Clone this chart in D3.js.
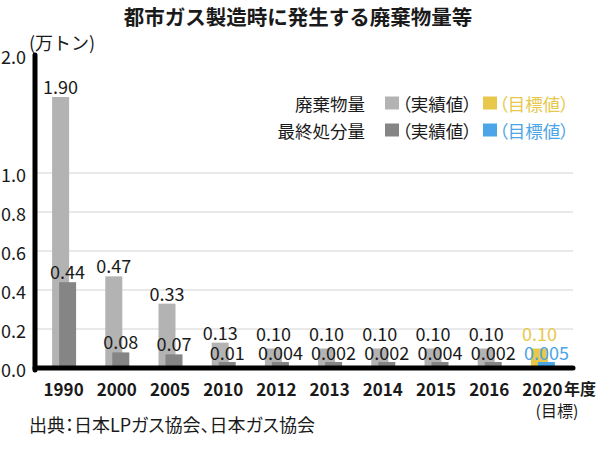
<!DOCTYPE html>
<html>
<head>
<meta charset="utf-8">
<script src="https://cdn.jsdelivr.net/npm/d3@7"></script>
<style>
  body { margin: 0; background: #fff; }
  svg { font-family: "Noto Sans CJK JP", "Noto Sans", sans-serif; }
  .palt { font-feature-settings: "palt"; }
</style>
</head>
<body>
<div id="chart"></div>
<script>
// data
const years = ['1990', '2000', '2005', '2010', '2012', '2013', '2014', '2015', '2016', '2020'];
const waste = [1.90, 0.47, 0.33, 0.13, 0.10, 0.10, 0.10, 0.10, 0.10, 0.10];
const wasteLabels = ['1.90', '0.47', '0.33', '0.13', '0.10', '0.10', '0.10', '0.10', '0.10', '0.10'];
const disposal = [0.44, 0.08, 0.07, 0.01, 0.004, 0.002, 0.002, 0.004, 0.002, 0.005];
const disposalLabels = ['0.44', '0.08', '0.07', '0.01', '0.004', '0.002', '0.002', '0.004', '0.002', '0.005'];
const yTicks = [0, 0.2, 0.4, 0.6, 0.8, 1.0, 2.0];
const gridTicks = [0.2, 0.4, 0.6, 0.8, 1.0];
const targetYear = '2020';

const width = 596, height = 449;

const colors = {
    waste: '#b3b3b3',
    disposal: '#858585',
    wasteTarget: '#e8c84a',
    disposalTarget: '#4ba5e6',
    text: '#1a1a1a'
};

const svg = d3.select('#chart').append('svg')
    .attr('width', width)
    .attr('height', height);

// x: one band per year
const x = d3.scaleBand()
    .domain(years)
    .range([37, 569]);
const cx = d => x(d) + x.bandwidth() / 2;

// y: broken axis, 0-1 linear, compressed above 1
const y = d3.scaleLinear()
    .domain([0, 1, 1.9, 2])
    .range([368, 173, 97, 55]);

const barW = 17;

// title
svg.append('text')
    .attr('x', 298).attr('y', 16)
    .attr('text-anchor', 'middle')
    .attr('dominant-baseline', 'central')
    .style('font-size', '20.5px')
    .style('font-weight', 'bold')
    .style('fill', colors.text)
    .text('都市ガス製造時に発生する廃棄物量等');

// unit
svg.append('text')
    .attr('x', 29).attr('y', 42)
    .attr('dominant-baseline', 'central')
    .style('font-size', '18px')
    .style('fill', colors.text)
    .text('(万トン)');

// gridlines
svg.append('g')
    .selectAll('line')
    .data(gridTicks)
    .join('line')
    .attr('x1', 37).attr('x2', 573)
    .attr('y1', d => y(d)).attr('y2', d => y(d))
    .style('stroke', '#e2e2e2')
    .style('stroke-width', 1.5);

// bars
const rows = years.map((yr, i) => ({
    year: yr,
    waste: waste[i], wasteLabel: wasteLabels[i],
    disposal: disposal[i], disposalLabel: disposalLabels[i]
}));

svg.append('g')
    .selectAll('rect')
    .data(rows)
    .join('rect')
    .attr('x', d => cx(d.year) - 3 - barW / 2)
    .attr('y', d => y(d.waste))
    .attr('width', barW)
    .attr('height', d => y(0) - y(d.waste))
    .style('fill', d => d.year === targetYear ? colors.wasteTarget : colors.waste);

svg.append('g')
    .selectAll('rect')
    .data(rows)
    .join('rect')
    .attr('x', d => cx(d.year) + 4 - barW / 2)
    .attr('y', d => Math.min(y(d.disposal), y(0) - 6))
    .attr('width', barW)
    .attr('height', d => Math.max(y(0) - y(d.disposal), 6))
    .style('fill', d => d.year === targetYear ? colors.disposalTarget : colors.disposal);

// y axis
const yAxis = svg.append('g')
    .attr('transform', 'translate(35,0)')
    .call(d3.axisLeft(y)
        .tickValues(yTicks)
        .tickSize(0)
        .tickSizeOuter(0)
        .tickPadding(9)
        .tickFormat(d3.format('.1f')));
yAxis.select('.domain')
    .attr('stroke', '#000')
    .attr('stroke-width', 5)
    .attr('stroke-linecap', 'round')
    .attr('d', `M0,${y(2)}V${y(0) + 2}`);
yAxis.selectAll('text')
    .attr('dy', null)
    .attr('dominant-baseline', 'central')
    .style('font-size', '18px')
    .style('font-family', '"Noto Sans CJK JP", sans-serif')
    .style('fill', colors.text);

// x axis
const xAxis = svg.append('g')
    .attr('transform', `translate(0,${y(0)})`)
    .call(d3.axisBottom(x).tickSize(0).tickSizeOuter(0).tickPadding(20));
xAxis.select('.domain')
    .attr('stroke', '#000')
    .attr('stroke-width', 5)
    .attr('stroke-linecap', 'round')
    .attr('d', 'M35,0H573');
xAxis.selectAll('text')
    .attr('dy', null)
    .attr('y', 20)
    .attr('dominant-baseline', 'central')
    .style('font-size', '17px')
    .style('font-weight', 'bold')
    .style('font-family', '"Noto Sans CJK JP", sans-serif')
    .style('fill', colors.text);

svg.append('text')
    .attr('x', 564).attr('y', 388)
    .attr('dominant-baseline', 'central')
    .style('font-size', '16px')
    .style('font-weight', 'bold')
    .style('fill', colors.text)
    .text('年度');
svg.append('text')
    .attr('x', 557).attr('y', 410)
    .attr('text-anchor', 'middle')
    .attr('dominant-baseline', 'central')
    .style('font-size', '16px')
    .style('fill', colors.text)
    .text('(目標)');

// value labels
svg.append('g')
    .selectAll('text')
    .data(rows)
    .join('text')
    .attr('x', d => cx(d.year) - 3)
    .attr('y', d => Math.min(y(d.waste) - 11, 333))
    .attr('text-anchor', 'middle')
    .attr('dominant-baseline', 'central')
    .style('font-size', '18px')
    .style('fill', d => d.year === targetYear ? colors.wasteTarget : colors.text)
    .text(d => d.wasteLabel);

svg.append('g')
    .selectAll('text')
    .data(rows)
    .join('text')
    .attr('x', d => cx(d.year) + 4)
    .attr('y', d => Math.min(y(d.disposal) - 11, 352))
    .attr('text-anchor', 'middle')
    .attr('dominant-baseline', 'central')
    .style('font-size', '18px')
    .style('fill', d => d.year === targetYear ? colors.disposalTarget : colors.text)
    .text(d => d.disposalLabel);

// legend
const legend = [
    { name: '廃棄物量', actual: colors.waste, target: colors.wasteTarget, y: 103 },
    { name: '最終処分量', actual: colors.disposal, target: colors.disposalTarget, y: 130 }
];
const lg = svg.append('g').selectAll('g')
    .data(legend)
    .join('g')
    .attr('transform', d => `translate(0,${d.y})`);
lg.append('text')
    .attr('x', 365)
    .attr('text-anchor', 'end')
    .attr('dominant-baseline', 'central')
    .style('font-size', '17.5px')
    .style('fill', colors.text)
    .text(d => d.name);
lg.append('rect')
    .attr('x', 385).attr('y', -6.5)
    .attr('width', 14).attr('height', 13)
    .style('fill', d => d.actual);
lg.append('text')
    .classed('palt', true)
    .attr('x', 402)
    .attr('dominant-baseline', 'central')
    .style('font-size', '17.5px')
    .style('fill', colors.text)
    .text('（実績値）');
lg.append('rect')
    .attr('x', 483).attr('y', -6.5)
    .attr('width', 14).attr('height', 13)
    .style('fill', d => d.target);
lg.append('text')
    .classed('palt', true)
    .attr('x', 499)
    .attr('dominant-baseline', 'central')
    .style('font-size', '17.5px')
    .style('fill', d => d.target)
    .text('（目標値）');

// source
svg.append('text')
    .classed('palt', true)
    .attr('x', 29).attr('y', 424)
    .attr('dominant-baseline', 'central')
    .style('font-size', '18px')
    .style('fill', colors.text)
    .text('出典：日本LPガス協会、日本ガス協会');
</script>
</body>
</html>
